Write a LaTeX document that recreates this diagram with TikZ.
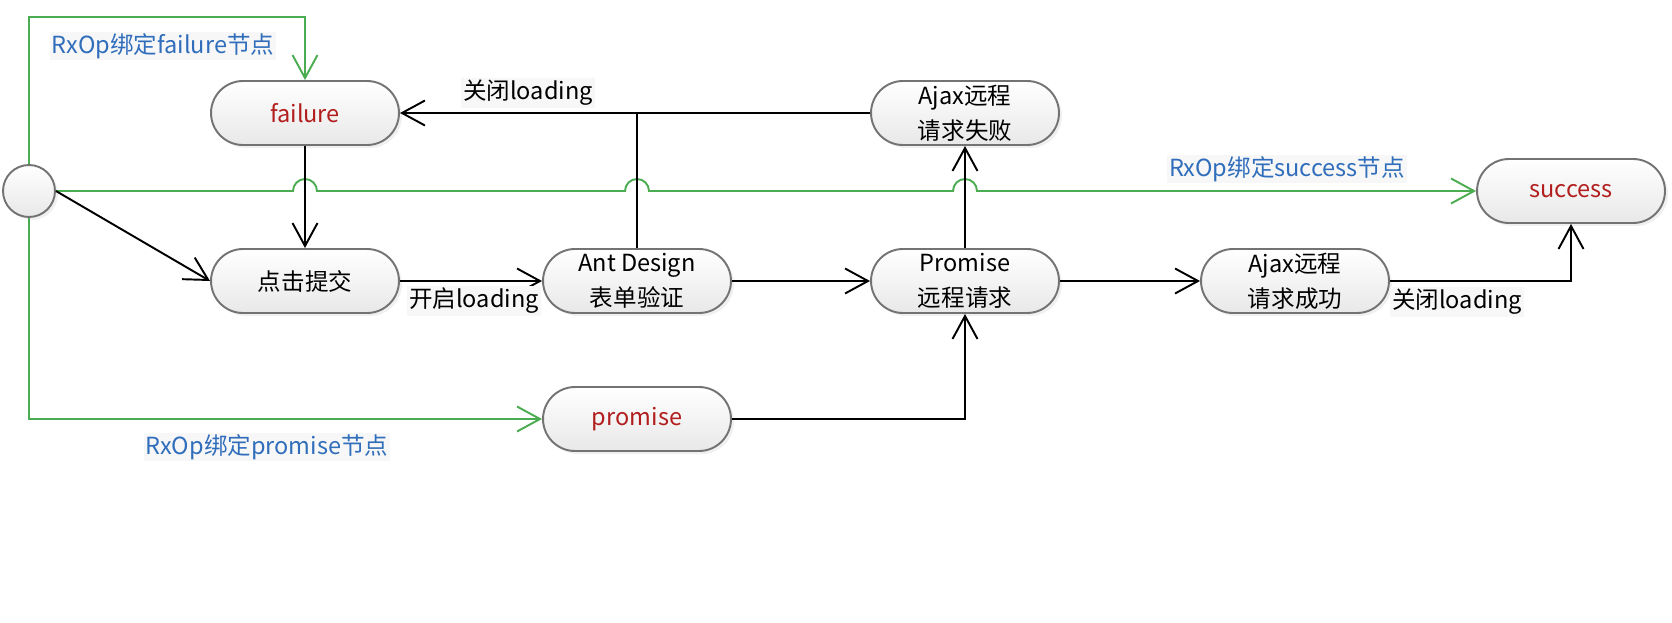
\documentclass[tikz,border=0pt]{standalone}
\usepackage{fontspec}
\setmainfont{Noto Sans CJK SC}
\usetikzlibrary{arrows.meta,shapes.misc,shadows,calc}
\definecolor{bindgreen}{RGB}{76,172,82}
\definecolor{bindblue}{RGB}{48,110,188}
\definecolor{namered}{RGB}{178,30,30}
\tikzset{
  state/.style={rounded rectangle, draw=black!55, line width=1.1pt, top color=white, bottom color=black!9,
    minimum width=3.76cm, minimum height=1.28cm, align=center, inner sep=0pt,
    drop shadow={shadow xshift=0.06cm, shadow yshift=-0.06cm, opacity=0.12}},
  flow/.style={line width=1.1pt, black},
  bind/.style={line width=1.1pt, bindgreen},
  bindlbl/.style={text=bindblue, fill=black!3, inner sep=1pt},
  note/.style={fill=black!3, inner sep=1pt}
}
\begin{document}
\begin{tikzpicture}[x=0.02cm, y=-0.02cm, >={Straight Barb[length=0.46cm, width=0.5cm]},
  font=\fontsize{13.4}{20}\selectfont]
    \useasboundingbox (0,0) rectangle (1672,622);
    \node[circle, draw=black!55, line width=1.1pt, top color=white, bottom color=black!9, minimum size=1.04cm,
      drop shadow={shadow xshift=0.06cm, shadow yshift=-0.06cm, opacity=0.12}] (start) at (29,191){};
    \node[state, text=namered] (failure) at (305,113){failure};
    \node[state] (submit) at (305,281){点击提交};
    \node[state] (antd) at (637,281){Ant Design\\表单验证};
    \node[state] (ajaxfail) at (965,113){Ajax远程\\请求失败};
    \node[state] (promisereq) at (965,281){Promise\\远程请求};
    \node[state] (ajaxok) at (1295,281){Ajax远程\\请求成功};
    \node[state, text=namered] (success) at (1571,191){success};
    \node[state, text=namered] (promise) at (637,419){promise};
    \coordinate (ftop) at (305,17);

    \draw [bind,->] (start.north) |- (ftop) -- (failure.north);
    \draw [bind,->] (start.south) |- (promise.west);
    \draw [bind,->] (start.east) -- ($(start.east -| failure)-(12,0)$) arc[start angle=180, end angle=360, radius=12]
      -- ($(start.east -| antd)-(12,0)$) arc[start angle=180, end angle=360, radius=12]
      -- ($(start.east -| ajaxfail)-(12,0)$) arc[start angle=180, end angle=360, radius=12]
      -- (success.west);
    \node[bindlbl] (lblfailure) at (163,46){RxOp绑定failure节点};
    \node[bindlbl] (lblsuccess) at (1287,169){RxOp绑定success节点};
    \node[bindlbl] (lblpromise) at (267,447){RxOp绑定promise节点};

    \draw [flow,->] (failure.south) -- (submit.north);
    \draw [flow,->] (start.east) -- (submit.west);
    \draw [flow,->] (submit.east) -- (antd.west);
    \draw [flow,->] (antd.east) -- (promisereq.west);
    \draw [flow,->] (promisereq.east) -- (ajaxok.west);
    \draw [flow,->] (promisereq.north) -- (ajaxfail.south);
    \draw [flow,->] (ajaxfail.west) -- (failure.east);
    \draw [flow] (antd.north) -- (antd.north |- failure.east);
    \draw [flow,->] (promise.east) -| (promisereq.south);
    \draw [flow,->] (ajaxok.east) -| (success.south);
    \node[note] (lblopen) at (474,301){开启loading};
    \node[note] (lblclosefail) at (528,93){关闭loading};
    \node[note] (lblcloseok) at (1457,302){关闭loading};
\end{tikzpicture}
\end{document}
